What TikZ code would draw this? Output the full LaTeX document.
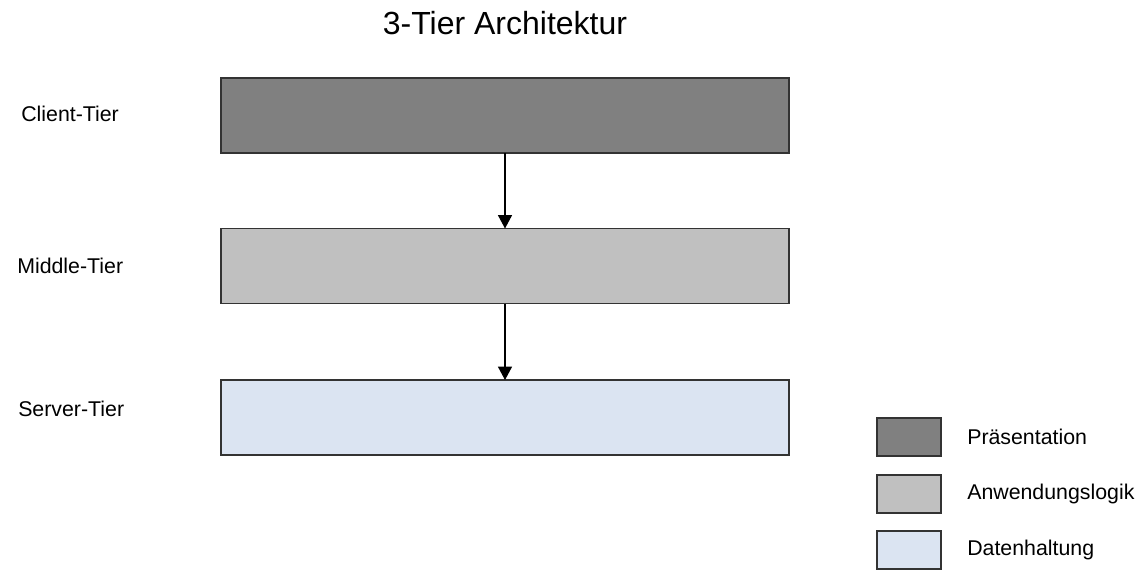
\documentclass[tikz,border=0pt]{standalone}
\usepackage{fontspec}
\setmainfont{Liberation Sans}
\usetikzlibrary{arrows.meta}
\definecolor{presfill}{RGB}{128,128,128}
\definecolor{logicfill}{RGB}{192,192,192}
\definecolor{datafill}{RGB}{219,228,242}
\tikzset{
  tierbox/.style={draw=black!80, line width=1pt, minimum width=568*0.75pt, minimum height=75*0.75pt, inner sep=0pt, outer sep=0pt},
  tierlabel/.style={font=\fontsize{16}{19}\selectfont, anchor=west, inner sep=0pt},
  legendbox/.style={draw=black!80, line width=0.9pt, minimum width=64*0.75pt, minimum height=38*0.75pt, inner sep=0pt},
  legendtext/.style={font=\fontsize{16}{19}\selectfont, anchor=west, inner sep=0pt},
  flow/.style={line width=0.8pt, -{Triangle[length=10pt,width=10.5pt]}}
}
\begin{document}
\begin{tikzpicture}[x=0.75pt, y=-0.75pt]
\useasboundingbox (0,0) rectangle (1140,571);

% title
\node[font=\fontsize{24}{28}\selectfont, inner sep=0pt] (title) at (505,23) {3-Tier Architektur};

% tier boxes
\node[tierbox, fill=presfill]  (client) at (505,115.5) {};
\node[tierbox, fill=logicfill] (middle) at (505,266) {};
\node[tierbox, fill=datafill]  (server) at (505,417.5) {};

% tier labels
\node[tierlabel] (lclient) at (21,114) {Client-Tier};
\node[tierlabel] (lmiddle) at (17,266) {Middle-Tier};
\node[tierlabel] (lserver) at (18,409) {Server-Tier};

% flow between tiers
\draw[flow] (client.south) -- (middle.north);
\draw[flow] (middle.south) -- (server.north);

% legend
\node[legendbox, fill=presfill]  (kpres)  at (909,437) {};
\node[legendbox, fill=logicfill] (klogic) at (909,494) {};
\node[legendbox, fill=datafill]  (kdata)  at (909,550) {};
\node[legendtext] (tpres)  at (967,437) {Präsentation};
\node[legendtext] (tlogic) at (967,494) {Anwendungslogik};
\node[legendtext] (tdata)  at (967,550) {Datenhaltung};
\end{tikzpicture}
\end{document}
